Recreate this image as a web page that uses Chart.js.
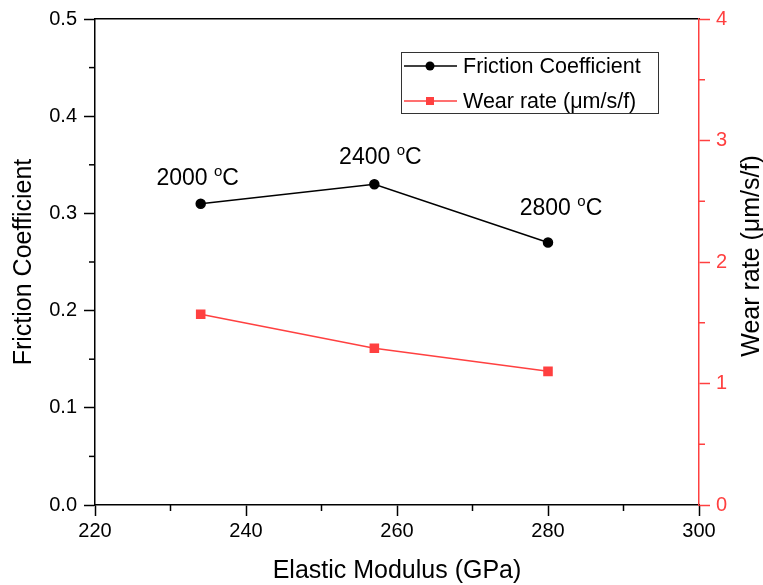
<!DOCTYPE html>
<html>
<head>
<meta charset="utf-8">
<script src="https://cdn.jsdelivr.net/npm/chart.js@4.4.0/dist/chart.umd.min.js"></script>
<style>
  html, body { margin: 0; padding: 0; background: #fff; }
  #wrap { width: 763px; height: 585px; }
</style>
</head>
<body>
<div id="wrap"><canvas id="chart" width="763" height="585"></canvas></div>
<script>
// values
const modulus = [234, 257, 280];
const friction = [0.31, 0.33, 0.27];
const wearRate = [1.57, 1.29, 1.10];
const tempLabels = ['2000', '2400', '2800'];
const xTicks = [220, 240, 260, 280, 300];

const RED = 'rgb(255, 64, 64)';
const FONT = "'Liberation Sans', Arial, sans-serif";

// small ticks between the labelled ones
const minorTicks = {
    id: 'minorTicks',
    afterDraw(chart) {
        const ctx = chart.ctx;
        const draw = (scale, from, to, step, color, side) => {
            ctx.save();
            ctx.strokeStyle = color;
            ctx.lineWidth = 1.5;
            for (let v = from; v <= to + 1e-9; v += step) {
                const p = scale.getPixelForValue(v);
                ctx.beginPath();
                if (side === 'bottom') { ctx.moveTo(p, scale.top); ctx.lineTo(p, scale.top + 6); }
                if (side === 'left') { ctx.moveTo(scale.right, p); ctx.lineTo(scale.right - 6, p); }
                if (side === 'right') { ctx.moveTo(scale.left, p); ctx.lineTo(scale.left + 6, p); }
                ctx.stroke();
            }
            ctx.restore();
        };
        draw(chart.scales.x, 230, 290, 20, '#000', 'bottom');
        draw(chart.scales.y, 0.05, 0.45, 0.1, '#000', 'left');
        draw(chart.scales.y1, 0.5, 3.5, 1, RED, 'right');
    }
};

// temperature notes next to the friction points, right axis title, legend
const extras = {
    id: 'extras',
    afterDraw(chart) {
        const ctx = chart.ctx;
        const x = chart.scales.x, y = chart.scales.y, y1 = chart.scales.y1;
        const offsets = [[-3, -19], [6, -20], [13, -28]];
        ctx.save();
        ctx.fillStyle = '#000';
        ctx.textBaseline = 'alphabetic';
        tempLabels.forEach((t, i) => {
            const px = x.getPixelForValue(modulus[i]) + offsets[i][0];
            const py = y.getPixelForValue(friction[i]) + offsets[i][1];
            ctx.font = '23px ' + FONT;
            const w1 = ctx.measureText(t + ' ').width;
            const wc = ctx.measureText('C').width;
            ctx.font = '15px ' + FONT;
            const wo = ctx.measureText('o').width;
            let sx = px - (w1 + wo + wc) / 2;
            ctx.font = '23px ' + FONT;
            ctx.fillText(t + ' ', sx, py);
            ctx.font = '15px ' + FONT;
            ctx.fillText('o', sx + w1, py - 9);
            ctx.font = '23px ' + FONT;
            ctx.fillText('C', sx + w1 + wo, py);
        });

        // right title, reading bottom to top
        ctx.save();
        ctx.translate(752, (y1.top + y1.bottom) / 2 - 6);
        ctx.rotate(-Math.PI / 2);
        ctx.font = '25px ' + FONT;
        ctx.textAlign = 'center';
        ctx.textBaseline = 'middle';
        ctx.fillText('Wear rate (\u03bcm/s/f)', 0, 0);
        ctx.restore();

        // legend box
        const bx = 401, by = 52, bw = 257, bh = 61;
        ctx.strokeStyle = '#333';
        ctx.lineWidth = 1;
        ctx.strokeRect(bx + 0.5, by + 0.5, bw, bh);
        const rows = chart.data.datasets;
        rows.forEach((ds, i) => {
            const ry = by + 14 + i * 35;
            ctx.strokeStyle = ds.borderColor;
            ctx.lineWidth = 1.5;
            ctx.beginPath();
            ctx.moveTo(bx + 3, ry);
            ctx.lineTo(bx + 56, ry);
            ctx.stroke();
            ctx.fillStyle = ds.pointBackgroundColor;
            if (ds.pointStyle === 'rect') {
                ctx.fillRect(bx + 25, ry - 4, 8, 8);
            } else {
                ctx.beginPath();
                ctx.arc(bx + 29, ry, 4.5, 0, Math.PI * 2);
                ctx.fill();
            }
            ctx.fillStyle = '#000';
            ctx.font = '21.5px ' + FONT;
            ctx.textAlign = 'left';
            ctx.textBaseline = 'middle';
            ctx.fillText(ds.label, bx + 62, ry + 1);
        });
        ctx.restore();
    }
};

const toPoints = (ys) => modulus.map((m, i) => ({ x: m, y: ys[i] }));

new Chart(document.getElementById('chart'), {
    type: 'line',
    data: {
        datasets: [
            {
                label: 'Friction Coefficient',
                data: toPoints(friction),
                yAxisID: 'y',
                borderColor: '#000',
                backgroundColor: '#000',
                pointBackgroundColor: '#000',
                pointBorderColor: '#000',
                pointStyle: 'circle',
                pointRadius: 4.5,
                borderWidth: 1.5,
                tension: 0
            },
            {
                label: 'Wear rate (\u03bcm/s/f)',
                data: toPoints(wearRate),
                yAxisID: 'y1',
                borderColor: RED,
                backgroundColor: RED,
                pointBackgroundColor: RED,
                pointBorderColor: RED,
                pointStyle: 'rect',
                pointRadius: 5.7,
                borderWidth: 1.5,
                tension: 0
            }
        ]
    },
    options: {
        responsive: false,
        animation: false,
        layout: { padding: 0 },
        plugins: {
            legend: { display: false },
            tooltip: { enabled: false }
        },
        scales: {
            x: {
                type: 'linear',
                position: 'bottom',
                min: 220,
                max: 300,
                afterBuildTicks: (s) => { s.ticks = xTicks.map(v => ({ value: v })); },
                afterFit: (s) => { s.height = 80; },
                grid: { drawOnChartArea: false, tickLength: 11, tickWidth: 1.5, tickColor: '#000' },
                border: { display: true, color: '#000', width: 1.5 },
                ticks: { color: '#000', font: { family: FONT, size: 20 }, padding: 3, maxRotation: 0 },
                title: { display: true, text: 'Elastic Modulus (GPa)', color: '#000', font: { family: FONT, size: 25 }, padding: { top: 0, bottom: -1 } }
            },
            x2: {
                type: 'linear',
                position: 'top',
                min: 220,
                max: 300,
                afterFit: (s) => { s.height = 15; },
                grid: { display: false },
                border: { display: true, color: '#000', width: 1.5 },
                ticks: { display: false }
            },
            y: {
                type: 'linear',
                position: 'left',
                min: 0,
                max: 0.5,
                afterFit: (s) => { s.width = 95; },
                grid: { drawOnChartArea: false, tickLength: 11, tickWidth: 1.5, tickColor: '#000' },
                border: { display: true, color: '#000', width: 1.5 },
                ticks: { stepSize: 0.1, color: '#000', font: { family: FONT, size: 20 }, padding: 7, callback: (v) => v.toFixed(1) },
                title: { display: true, text: 'Friction Coefficient', color: '#000', font: { family: FONT, size: 25 }, padding: { top: 9, bottom: 0 } }
            },
            y1: {
                type: 'linear',
                position: 'right',
                min: 0,
                max: 4,
                afterFit: (s) => { s.width = 64; },
                grid: { drawOnChartArea: false, tickLength: 11, tickWidth: 1.5, tickColor: RED },
                border: { display: true, color: RED, width: 1.5 },
                ticks: { stepSize: 1, color: RED, font: { family: FONT, size: 20 }, padding: 6 }
            }
        }
    },
    plugins: [minorTicks, extras]
});
</script>
</body>
</html>
